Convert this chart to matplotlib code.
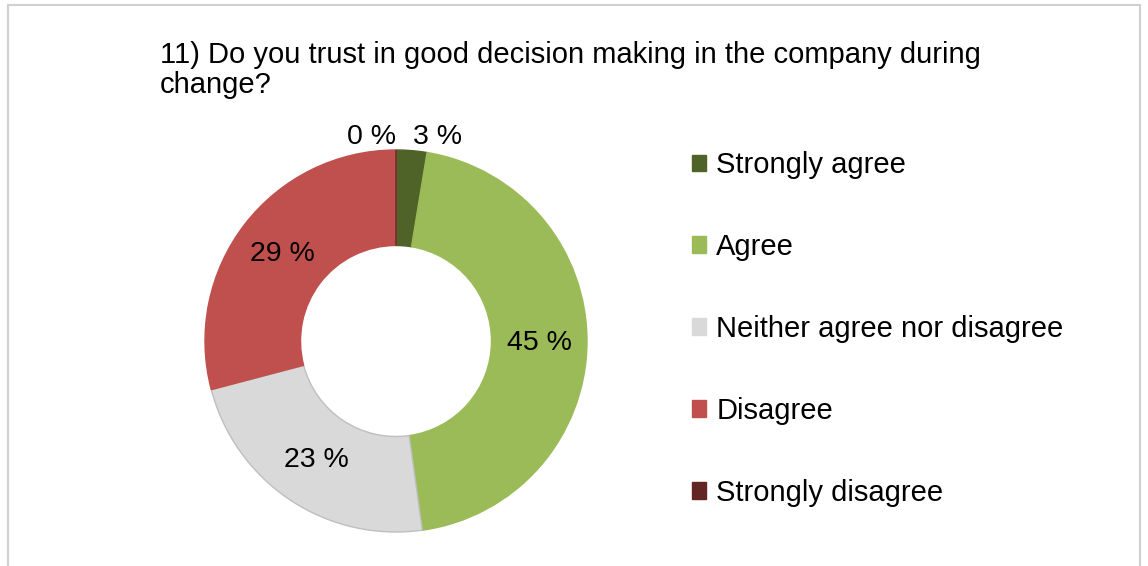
import numpy as np
import matplotlib
matplotlib.use("Agg")
import matplotlib.pyplot as plt
from matplotlib.patches import Rectangle, Patch

plt.rcParams['font.family'] = ['Liberation Sans', 'DejaVu Sans']

title = "11) Do you trust in good decision making in the company during\nchange?"
categories = ["Strongly agree", "Agree", "Neither agree nor disagree",
              "Disagree", "Strongly disagree"]
values = [2.6, 45.2, 23.1, 29.1, 0.0]
colors = ["#4F6228", "#9BBB59", "#D9D9D9", "#C0504D", "#632523"]
edges = ["#4F6228", "#9BBB59", "#BFBFBF", "#C0504D", "#632523"]

W, H = 1148, 566
fig = plt.figure(figsize=(W / 100, H / 100), dpi=100)

# chart frame (bottom runs off the picture)
fig.patches.append(Rectangle((8 / W, -0.05), 1132 / W, 1.05 - 5 / H,
                             transform=fig.transFigure, fill=False,
                             edgecolor="#D0D0D0", linewidth=1.5))

fig.text(160 / W, 1 - 41 / H, title, fontsize=21, va="top", ha="left",
         linespacing=1.1)

# donut
cx, cy, r = 396, 341, 191
ax = fig.add_axes([(cx - r) / W, (H - cy - r) / H, 2 * r / W, 2 * r / H])
wedges, _ = ax.pie(values, colors=colors, startangle=90, counterclock=False,
                   radius=1.0, wedgeprops=dict(width=0.5, linewidth=1))
for w, ec in zip(wedges, edges):
    w.set_edgecolor(ec)
ax.set_xlim(-1, 1)
ax.set_ylim(-1, 1)
ax.set_aspect("equal")
ax.axis("off")

total = sum(values)
start = 0.0
for v in values:
    mid = np.deg2rad((start + v / 2) / total * 360)
    start += v
    lab = f"{round(v):.0f} %"
    if v < 5:
        rr = 1.07
        ha = "left" if v > 0 else "right"
    else:
        rr = 0.75
        ha = "center"
    ax.text(rr * np.sin(mid), rr * np.cos(mid), lab, fontsize=20.5,
            ha=ha, va="center", clip_on=False)

handles = [Patch(facecolor=c, edgecolor=c) for c in colors]
fig.legend(handles, categories, loc="upper left",
           bbox_to_anchor=(692 / W, 1 - 151 / H), frameon=False,
           fontsize=21, labelspacing=1.85, handlelength=0.48,
           handleheight=0.48, handletextpad=0.35, borderpad=0,
           borderaxespad=0)

fig.savefig("out.png", dpi=100)
